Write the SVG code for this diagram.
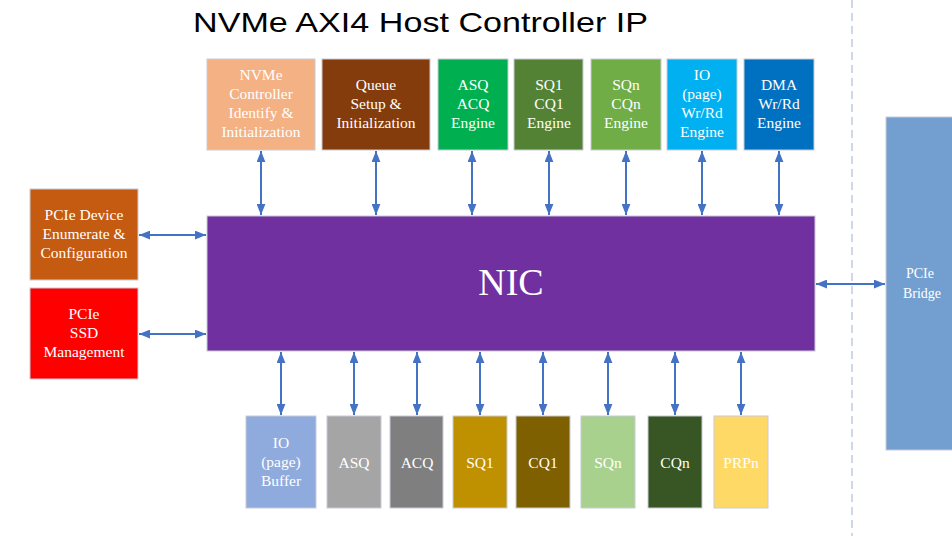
<svg xmlns="http://www.w3.org/2000/svg" width="952" height="536" viewBox="0 0 952 536" font-family="'Liberation Serif', 'Times New Roman', serif">
<style>
.box{stroke:#C8CCD6;stroke-width:1}
.t{font-family:'Liberation Serif','Times New Roman',serif;font-size:15.5px;fill:#FFFFFF;text-anchor:middle}
.c{stroke:#4472C4;stroke-width:2;fill:none;marker-start:url(#ah);marker-end:url(#ah)}
</style>
<defs>
<marker id="ah" viewBox="0 0 10 8" refX="10" refY="4" markerWidth="11" markerHeight="9" markerUnits="userSpaceOnUse" orient="auto-start-reverse">
<path d="M0,0 L10,4 L0,8 z" fill="#4472C4"/>
</marker>
</defs>
<rect width="952" height="536" fill="#FFFFFF"/>
<text x="193" y="32" font-family="'Liberation Sans', Arial, sans-serif" font-size="28" textLength="455" lengthAdjust="spacingAndGlyphs" fill="#000">NVMe AXI4 Host Controller IP</text>
<line x1="852" y1="0" x2="852" y2="536" stroke="#D0D8E8" stroke-width="2" stroke-dasharray="8,5"/>

<g id="connectors">
<line class="c" x1="261" y1="151" x2="261" y2="215"/>
<line class="c" x1="376" y1="151" x2="376" y2="215"/>
<line class="c" x1="472" y1="151" x2="472" y2="215"/>
<line class="c" x1="549" y1="151" x2="549" y2="215"/>
<line class="c" x1="626" y1="151" x2="626" y2="215"/>
<line class="c" x1="702" y1="151" x2="702" y2="215"/>
<line class="c" x1="779" y1="151" x2="779" y2="215"/>
<line class="c" x1="139" y1="235" x2="206" y2="235"/>
<line class="c" x1="139" y1="334" x2="206" y2="334"/>
<line class="c" x1="816" y1="284" x2="885" y2="284"/>
<line class="c" x1="281" y1="352" x2="281" y2="415"/>
<line class="c" x1="354" y1="352" x2="354" y2="415"/>
<line class="c" x1="417" y1="352" x2="417" y2="415"/>
<line class="c" x1="480" y1="352" x2="480" y2="415"/>
<line class="c" x1="543" y1="352" x2="543" y2="415"/>
<line class="c" x1="608" y1="352" x2="608" y2="415"/>
<line class="c" x1="675" y1="352" x2="675" y2="415"/>
<line class="c" x1="741" y1="352" x2="741" y2="415"/>
</g>

<g id="nic">
<rect class="box" x="207" y="216" width="608" height="135" fill="#7030A0"/>
<text x="511" y="295" font-size="38" fill="#FFFFFF" text-anchor="middle">NIC</text>
</g>

<g id="nvme-ctrl">
<rect class="box" x="207" y="59" width="108" height="91" fill="#F4B183"/>
<text class="t" x="261" y="80">NVMe</text>
<text class="t" x="261" y="99">Controller</text>
<text class="t" x="261" y="118">Identify &amp;</text>
<text class="t" x="261" y="137">Initialization</text>
</g>
<g id="queue-setup">
<rect class="box" x="322" y="59" width="108" height="91" fill="#843C0C"/>
<text class="t" x="376" y="90">Queue</text>
<text class="t" x="376" y="109">Setup &amp;</text>
<text class="t" x="376" y="128">Initialization</text>
</g>
<g id="asq-acq-engine">
<rect class="box" x="438" y="59" width="70" height="91" fill="#00B050"/>
<text class="t" x="473" y="90">ASQ</text>
<text class="t" x="473" y="109">ACQ</text>
<text class="t" x="473" y="128">Engine</text>
</g>
<g id="sq1-cq1-engine">
<rect class="box" x="514" y="59" width="69" height="91" fill="#548235"/>
<text class="t" x="549" y="90">SQ1</text>
<text class="t" x="549" y="109">CQ1</text>
<text class="t" x="549" y="128">Engine</text>
</g>
<g id="sqn-cqn-engine">
<rect class="box" x="591" y="59" width="70" height="91" fill="#70AD47"/>
<text class="t" x="626" y="90">SQn</text>
<text class="t" x="626" y="109">CQn</text>
<text class="t" x="626" y="128">Engine</text>
</g>
<g id="io-engine">
<rect class="box" x="667" y="59" width="70" height="91" fill="#00B0F0"/>
<text class="t" x="702" y="80">IO</text>
<text class="t" x="702" y="99">(page)</text>
<text class="t" x="702" y="118">Wr/Rd</text>
<text class="t" x="702" y="137">Engine</text>
</g>
<g id="dma-engine">
<rect class="box" x="744" y="59" width="70" height="91" fill="#0070C0"/>
<text class="t" x="779" y="90">DMA</text>
<text class="t" x="779" y="109">Wr/Rd</text>
<text class="t" x="779" y="128">Engine</text>
</g>

<g id="pcie-enum">
<rect class="box" x="30" y="189" width="108" height="91" fill="#C55A11"/>
<text class="t" x="84" y="220">PCIe Device</text>
<text class="t" x="84" y="239">Enumerate &amp;</text>
<text class="t" x="84" y="258">Configuration</text>
</g>
<g id="pcie-ssd">
<rect class="box" x="30" y="288" width="108" height="91" fill="#FF0000"/>
<text class="t" x="84" y="319">PCIe</text>
<text class="t" x="84" y="338">SSD</text>
<text class="t" x="84" y="357">Management</text>
</g>

<g id="pcie-bridge">
<rect class="box" x="886" y="117" width="70" height="333" fill="#729FCF"/>
<text class="t" x="920" y="278" style="font-size:14px">PCIe</text>
<text class="t" x="922" y="298" style="font-size:14px">Bridge</text>
</g>

<g id="io-buffer">
<rect class="box" x="246" y="416" width="70" height="92" fill="#8FAADC"/>
<text class="t" x="281" y="448">IO</text>
<text class="t" x="281" y="467">(page)</text>
<text class="t" x="281" y="486">Buffer</text>
</g>
<g id="asq">
<rect class="box" x="327" y="416" width="54" height="92" fill="#A5A5A5"/>
<text class="t" x="354" y="468">ASQ</text>
</g>
<g id="acq">
<rect class="box" x="390" y="416" width="53" height="92" fill="#7F7F7F"/>
<text class="t" x="417" y="468">ACQ</text>
</g>
<g id="sq1">
<rect class="box" x="453" y="416" width="54" height="92" fill="#BF9000"/>
<text class="t" x="480" y="468">SQ1</text>
</g>
<g id="cq1">
<rect class="box" x="516" y="416" width="54" height="92" fill="#7F6000"/>
<text class="t" x="543" y="468">CQ1</text>
</g>
<g id="sqn">
<rect class="box" x="581" y="416" width="54" height="92" fill="#A9D18E"/>
<text class="t" x="608" y="468">SQn</text>
</g>
<g id="cqn">
<rect class="box" x="648" y="416" width="54" height="92" fill="#375623"/>
<text class="t" x="675" y="468">CQn</text>
</g>
<g id="prpn">
<rect class="box" x="714" y="416" width="54" height="92" fill="#FFD966"/>
<text class="t" x="741" y="468">PRPn</text>
</g>
</svg>
